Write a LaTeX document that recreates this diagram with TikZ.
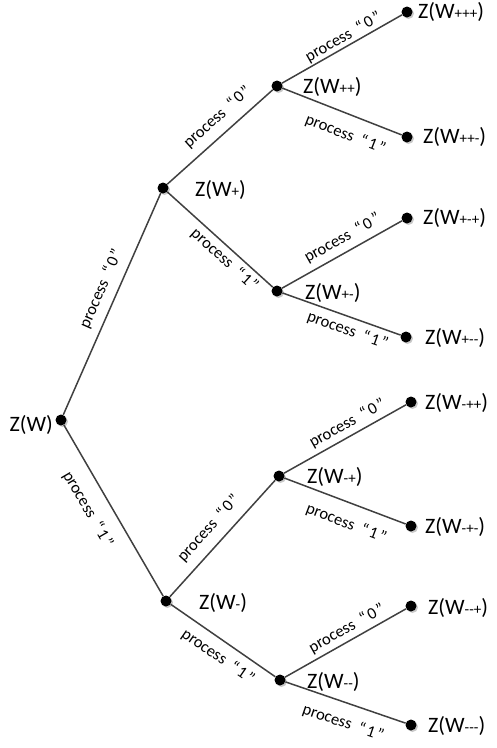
\documentclass[tikz,border=0pt]{standalone}
\usepackage{fontspec}
\setmainfont{Carlito}
\usetikzlibrary{shadows}
% small signs used in the subscripts of W (hyphens kept apart, no dash ligatures)
\newcommand\sg[1]{{\fontsize{15}{15}\selectfont #1}}
% branch label
\newcommand\proc[1]{process\hspace{0.45em}“\hspace{0.12em}#1\hspace{0.12em}”}

\begin{document}
\begin{tikzpicture}[x=1pt,y=-1pt,
  dot/.style={circle, fill=black, minimum size=11pt, inner sep=0pt,
    drop shadow={shadow xshift=1.5pt, shadow yshift=-1.5pt, fill=black!30, opacity=0.7}},
  branch/.style={draw=black!75, line width=1.5pt},
  zlab/.style={font=\fontsize{22}{22}\selectfont, inner sep=0pt},
  plab/.style={font=\fontsize{16.5}{17}\selectfont, inner sep=0pt, sloped}]

\useasboundingbox (0,0) rectangle (496,748);

% tree nodes
\node[dot] (r)   at (61,420) {};
\node[dot] (p)   at (163,188) {};
\node[dot] (m)   at (166,601) {};
\node[dot] (pp)  at (277,86) {};
\node[dot] (pm)  at (277,291) {};
\node[dot] (mp)  at (279,476) {};
\node[dot] (mm)  at (280,680) {};
\node[dot] (ppp) at (407,12) {};
\node[dot] (ppm) at (407,137) {};
\node[dot] (pmp) at (407,218) {};
\node[dot] (pmm) at (406,337) {};
\node[dot] (mpp) at (411,402) {};
\node[dot] (mpm) at (411,526) {};
\node[dot] (mmp) at (411,606) {};
\node[dot] (mmm) at (411,725) {};

% branches
\draw[branch] (r) -- node[plab, pos=0.54, above=8pt] {\proc{0}} (p);
\draw[branch] (r) -- node[plab, pos=0.43, below=13.5pt] {\proc{1}} (m);
\draw[branch] (p) -- node[plab, pos=0.58, above=8.5pt] {\proc{0}} (pp);
\draw[branch] (p) -- node[plab, pos=0.62, below=4pt] {\proc{1}} (pm);
\draw[branch] (m) -- node[plab, pos=0.49, above=9pt] {\proc{0}} (mp);
\draw[branch] (m) -- node[plab, pos=0.54, below=8pt] {\proc{1}} (mm);
\draw[branch] (pp) -- node[plab, pos=0.55, above=1.5pt] {\proc{0}} (ppp);
\draw[branch] (pp) -- node[plab, pos=0.59, below=12pt] {\proc{1}} (ppm);
\draw[branch] (pm) -- node[plab, pos=0.56, above=6pt] {\proc{0}} (pmp);
\draw[branch] (pm) -- node[plab, pos=0.59, below=5.5pt] {\proc{1}} (pmm);
\draw[branch] (mp) -- node[plab, pos=0.57, above=4.5pt] {\proc{0}} (mpp);
\draw[branch] (mp) -- node[plab, pos=0.57, below=12.5pt] {\proc{1}} (mpm);
\draw[branch] (mm) -- node[plab, pos=0.56, above=4pt] {\proc{0}} (mmp);
\draw[branch] (mm) -- node[plab, pos=0.535, below=12pt] {\proc{1}} (mmm);

% node values
\node[zlab, anchor=east] (lr)   at (53,425)  {Z(W)};
\node[zlab, anchor=west] (lp)   at (195,190) {Z(W\sg{+})};
\node[zlab, anchor=west] (lm)   at (199,603) {Z(W\sg{-})};
\node[zlab, anchor=west] (lpp)  at (303,87)  {Z(W\sg{++})};
\node[zlab, anchor=west] (lpm)  at (305,293) {Z(W\sg{+-})};
\node[zlab, anchor=west] (lmp)  at (307,477) {Z(W\sg{-+})};
\node[zlab, anchor=west] (lmm)  at (307,682) {Z(W\sg{-{}-})};
\node[zlab, anchor=west] (lppp) at (418,12)  {Z(W\sg{+++})};
\node[zlab, anchor=west] (lppm) at (423,137) {Z(W\sg{++-})};
\node[zlab, anchor=west] (lpmp) at (423,218) {Z(W\sg{+-+})};
\node[zlab, anchor=west] (lpmm) at (425,338) {Z(W\sg{+-{}-})};
\node[zlab, anchor=west] (lmpp) at (425,403) {Z(W\sg{-++})};
\node[zlab, anchor=west] (lmpm) at (425,527) {Z(W\sg{-+-})};
\node[zlab, anchor=west] (lmmp) at (428,608) {Z(W\sg{-{}-+})};
\node[zlab, anchor=west] (lmmm) at (428,726) {Z(W\sg{-{}-{}-})};
\end{tikzpicture}
\end{document}
